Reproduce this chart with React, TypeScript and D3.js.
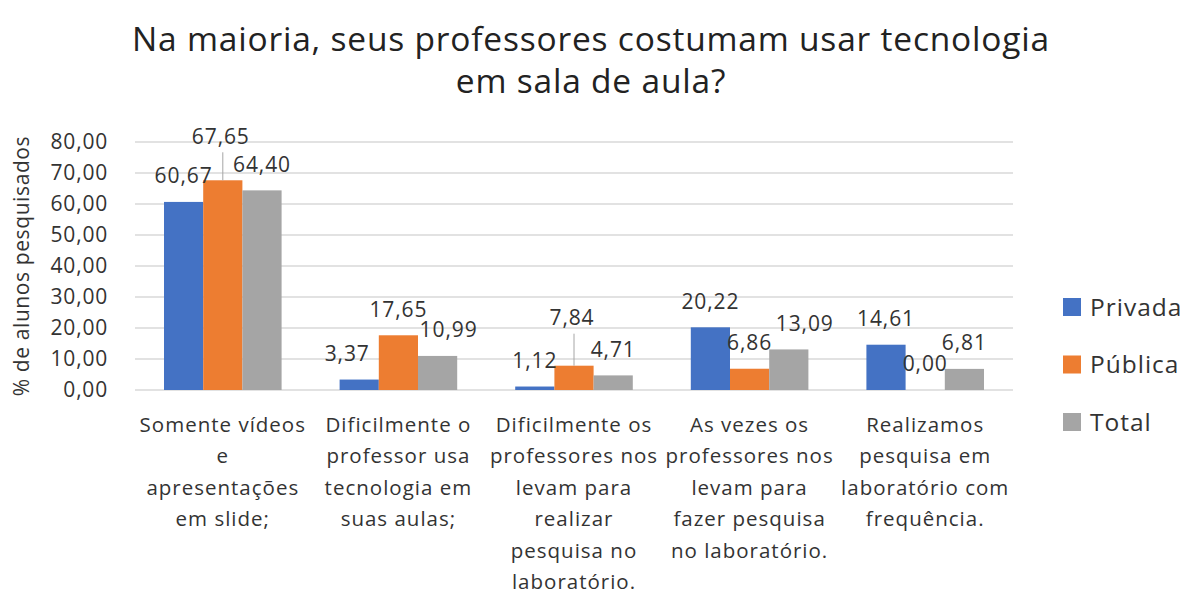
import React from 'react';
import * as d3 from 'd3';

// dados do gráfico
const categories = [
  ['Somente vídeos', 'e', 'apresentações', 'em slide;'],
  ['Dificilmente o', 'professor usa', 'tecnologia em', 'suas aulas;'],
  ['Dificilmente os', 'professores nos', 'levam para', 'realizar', 'pesquisa no', 'laboratório.'],
  ['As vezes os', 'professores nos', 'levam para', 'fazer pesquisa', 'no laboratório.'],
  ['Realizamos', 'pesquisa em', 'laboratório com', 'frequência.'],
];
const seriesNames = ['Privada', 'Pública', 'Total'];
const privada = [60.67, 3.37, 1.12, 20.22, 14.61];
const publica = [67.65, 17.65, 7.84, 6.86, 0.0];
const total = [64.4, 10.99, 4.71, 13.09, 6.81];
const yTicks = [0, 10, 20, 30, 40, 50, 60, 70, 80];

const colors = ['#4472C4', '#ED7D31', '#A5A5A5'];

// label nudges (px), as moved by hand in the original
const labelNudge: Record<string, { dx: number; dy: number; leader?: boolean }> = {
  '1-0': { dx: -2, dy: -18, leader: true },
  '0-1': { dx: -12, dy: 0 },
  '2-1': { dx: 11, dy: 0 },
  '1-2': { dx: -2, dy: -22, leader: true },
  '2-3': { dx: 16, dy: 0 },
};

const font = "'Open Sans', sans-serif";

export default function App() {
  const width = 1187;
  const height = 596;
  const values = [privada, publica, total];

  const x0 = d3.scaleBand<number>()
    .domain(categories.map((_, i) => i))
    .range([135, 1013]);
  const x1 = d3.scaleBand<string>()
    .domain(seriesNames)
    .range([0, x0.bandwidth()])
    .paddingInner(0)
    .paddingOuter(0.74);
  const y = d3.scaleLinear().domain([0, 80]).range([390, 142]);

  const fmt = (v: number) => d3.format('.2f')(v).replace('.', ',');

  return (
    <svg width={width} height={height} style={{ position: 'absolute', left: 0, top: 0, background: '#fff' }}>
      <rect width={width} height={height} fill="#fff" />
      {/* title */}
      <text x={591} y={51} textAnchor="middle" fontFamily={font} fontSize={33.5} fill="#222" letterSpacing={0.8}>
        Na maioria, seus professores costumam usar tecnologia
      </text>
      <text x={591} y={93} textAnchor="middle" fontFamily={font} fontSize={33.5} fill="#222" letterSpacing={0.8}>
        em sala de aula?
      </text>

      {/* gridlines */}
      {yTicks.map(t => (
        <line key={t} x1={135} x2={1013} y1={y(t)} y2={y(t)} stroke="#d9d9d9" strokeWidth={1.5} />
      ))}
      {yTicks.map(t => (
        <text key={'t' + t} x={108} y={y(t)} dy="0.35em" textAnchor="end" fontFamily={font} fontSize={21} fill="#333" letterSpacing={0.8}>
          {fmt(t)}
        </text>
      ))}

      {/* y axis title */}
      <text transform={`translate(29,${266}) rotate(-90)`} textAnchor="middle" fontFamily={font} fontSize={21} fill="#333" letterSpacing={0.6}>
        % de alunos pesquisados
      </text>

      {/* bars */}
      {seriesNames.map((s, si) => (
        <g key={s}>
          {values[si].map((v, i) => (
            <rect key={i} x={(x0(i) as number) + (x1(s) as number)} y={y(v)} width={x1.bandwidth()} height={y(0) - y(v)} fill={colors[si]} />
          ))}
        </g>
      ))}

      {/* data labels */}
      {seriesNames.map((s, si) => (
        <g key={'l' + s}>
          {values[si].map((v, i) => {
            const n = labelNudge[`${si}-${i}`] || { dx: 0, dy: 0 };
            const cx = (x0(i) as number) + (x1(s) as number) + x1.bandwidth() / 2;
            const cy = y(v) - 26 + n.dy;
            return (
              <g key={i}>
                {n.leader && (
                  <line x1={cx} x2={cx} y1={cy + 16} y2={y(v)} stroke="#a6a6a6" strokeWidth={1} />
                )}
                <text x={cx + n.dx} y={cy} dy="0.35em" textAnchor="middle" fontFamily={font} fontSize={21} fill="#333" letterSpacing={0.9}>
                  {fmt(v)}
                </text>
              </g>
            );
          })}
        </g>
      ))}

      {/* category labels */}
      {categories.map((lines, i) => (
        <text key={'c' + i} textAnchor="middle" fontFamily={font} fontSize={20.5} fill="#333" letterSpacing={1}>
          {lines.map((ln, li) => (
            <tspan key={li} x={(x0(i) as number) + x0.bandwidth() / 2} y={432 + li * 31.4}>{ln}</tspan>
          ))}
        </text>
      ))}

      {/* legend */}
      {seriesNames.map((s, si) => (
        <g key={'g' + s} transform={`translate(1063,${307 + si * 57.5})`}>
          <rect x={0} y={-9} width={18} height={18} fill={colors[si]} />
          <text x={27} y={0} dy="0.35em" fontFamily={font} fontSize={24.5} fill="#333" letterSpacing={1}>{s}</text>
        </g>
      ))}
    </svg>
  );
}
